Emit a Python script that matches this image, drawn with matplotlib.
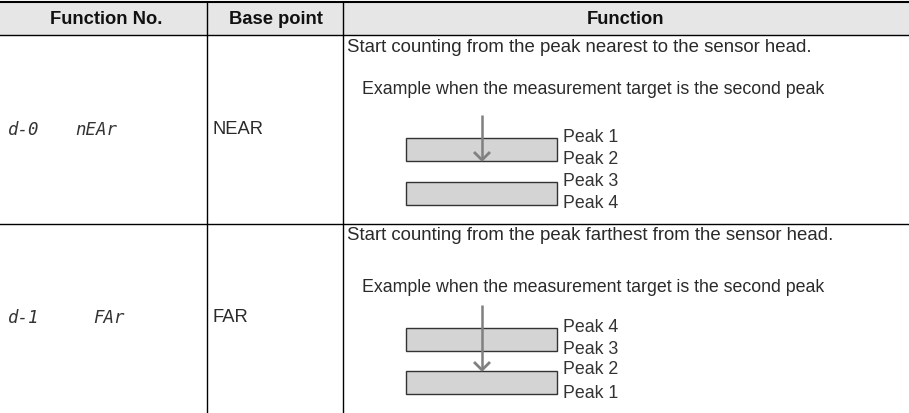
import matplotlib
matplotlib.use("Agg")
import matplotlib.pyplot as plt
from matplotlib.patches import Rectangle

# ---- table content ----
headers = ["Function No.", "Base point", "Function"]
func_codes = ["d-0", "d-1"]
func_names = ["nEAr", "FAr"]
base_points = ["NEAR", "FAR"]
descriptions = ["Start counting from the peak nearest to the sensor head.",
                "Start counting from the peak farthest from the sensor head."]
example_text = "Example when the measurement target is the second peak"
peak_orders = [["Peak 1", "Peak 2", "Peak 3", "Peak 4"],
               ["Peak 4", "Peak 3", "Peak 2", "Peak 1"]]
# arrow end: 0 = inside first block, 1 = top of second block
arrow_stop = [0, 1]

W, H = 909, 413
plt.rcParams["font.family"] = ["Liberation Sans", "DejaVu Sans"]
fig = plt.figure(figsize=(W / 100, H / 100), dpi=100)
ax = fig.add_axes([0, 0, 1, 1])
ax.set_xlim(0, W)
ax.set_ylim(H, 0)
ax.axis("off")

txtc = "#2a2a2a"

# layout
col_x = [0, 207, 343, W]
top, head_bot = 2, 35
row_bounds = [35, 224, 413]

# header
ax.add_patch(Rectangle((0, top), W, head_bot - top, facecolor="#e6e6e6", edgecolor="none"))
ax.plot([0, W], [top, top], color="black", lw=1.5)
ax.plot([0, W], [head_bot, head_bot], color="black", lw=1.0)
ax.plot([0, W], [row_bounds[1], row_bounds[1]], color="black", lw=1.0)
for x in col_x[1:3]:
    ax.plot([x, x], [top, H], color="black", lw=1.0)
head_dx = [3, 1, 0]
for i, h in enumerate(headers):
    cx = (col_x[i] + col_x[i + 1]) / 2 + head_dx[i]
    ax.text(cx, (top + head_bot) / 2 + 1, h, ha="center", va="center",
            fontsize=13.2, fontweight="bold", color="#111111")

# rows
row_text_y = [[47, 89], [236, 287]]
row_mid_y = [130, 318]
block_tops = [[138, 182], [328, 371]]
block_h = 23
arrow_top = [115, 305]
name_x = [75, 93]
for r in range(2):
    ym = row_mid_y[r]
    ax.text(8, ym, func_codes[r], ha="left", va="center", fontsize=12.5,
            family="DejaVu Sans Mono", style="italic", color="#333333")
    ax.text(name_x[r], ym, func_names[r], ha="left", va="center", fontsize=12.5,
            family="DejaVu Sans Mono", style="italic", color="#333333")
    ax.text(213, ym, base_points[r], ha="left", va="center", fontsize=13.2, color=txtc)
    ax.text(347, row_text_y[r][0], descriptions[r], ha="left", va="center",
            fontsize=13.4, color=txtc)
    ax.text(362, row_text_y[r][1], example_text, ha="left", va="center",
            fontsize=12.8, color=txtc)
    # blocks
    for bt in block_tops[r]:
        ax.add_patch(Rectangle((406, bt), 151, block_h, facecolor="#d4d4d4",
                               edgecolor="#333333", lw=1.0, zorder=2))
    # peak labels
    lbl_y = [block_tops[r][0] - 1, block_tops[r][0] + block_h - 1,
             block_tops[r][1] - 1, block_tops[r][1] + block_h - 1]
    for ly, lab in zip(lbl_y, peak_orders[r]):
        ax.text(563, ly, lab, ha="left", va="center", fontsize=12.8, color="#333333")
    # arrow
    tip = block_tops[r][0] + block_h - 1 if arrow_stop[r] == 0 else block_tops[r][1] - 1
    ax.plot([482, 482], [arrow_top[r], tip], color="#808080", lw=1.8, zorder=3,
            solid_capstyle="butt")
    ax.plot([475, 482, 489], [tip - 7, tip, tip - 7], color="#808080", lw=2.0, zorder=3)

fig.savefig("out.png", dpi=100)
